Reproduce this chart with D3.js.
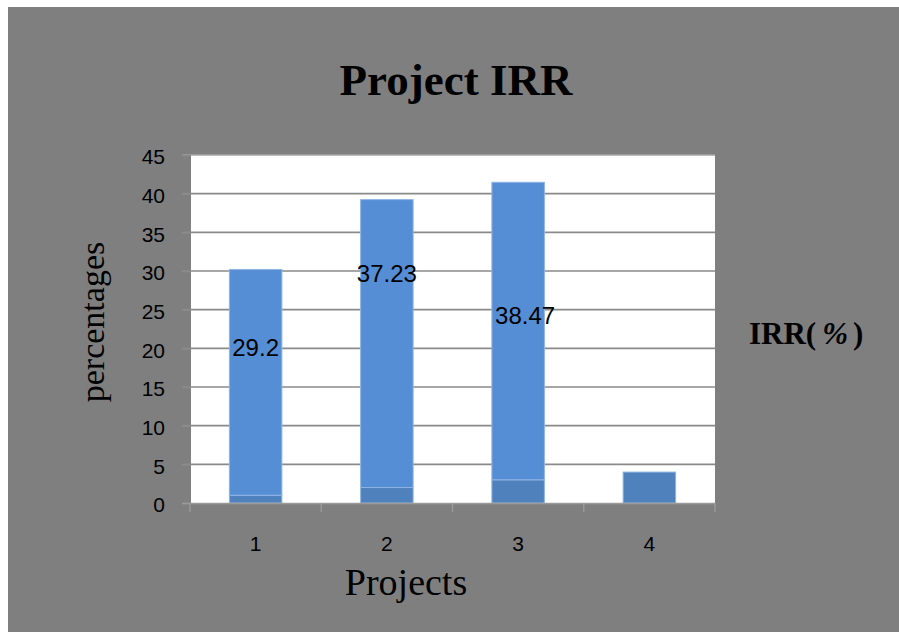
<!DOCTYPE html>
<html>
<head>
<meta charset="utf-8">
<script src="https://cdn.jsdelivr.net/npm/d3@7"></script>
<style>
  html, body { margin: 0; padding: 0; background: #ffffff; }
  svg { display: block; }
</style>
</head>
<body>
<svg id="chart" width="899" height="635"></svg>
<script>
// Project IRR data: a stacked column per project
const categories = ["1", "2", "3", "4"];
const projectSeries = [1, 2, 3, 4];
const irrSeries = [29.2, 37.23, 38.47, 0];
const yTicks = [0, 5, 10, 15, 20, 25, 30, 35, 40, 45];

const W = 899, H = 635;
const plot = { left: 191, right: 715, top: 155, bottom: 503 };

const svg = d3.select("#chart");

// outer chart area
svg.append("rect")
  .attr("x", 8).attr("y", 7)
  .attr("width", W - 8).attr("height", H - 10)
  .attr("fill", "#7f7f7f");

// plot area
svg.append("rect")
  .attr("x", plot.left).attr("y", plot.top)
  .attr("width", plot.right - plot.left).attr("height", plot.bottom - plot.top)
  .attr("fill", "#ffffff");

const x = d3.scaleBand()
  .domain(categories)
  .range([plot.left - 1, plot.right])
  .paddingInner(0.6)
  .paddingOuter(0.3);

const y = d3.scaleLinear()
  .domain([0, 45])
  .range([plot.bottom, plot.top]);

// horizontal gridlines
svg.append("g")
  .selectAll("line")
  .data(yTicks.filter(t => t > 0))
  .join("line")
  .attr("x1", plot.left - 9).attr("x2", plot.right)
  .attr("y1", d => y(d)).attr("y2", d => y(d))
  .attr("stroke", d => d === 45 ? "#a6a6a6" : "#8a8a8a")
  .attr("stroke-width", 1.6);

// y axis labels and ticks
const yAxis = svg.append("g")
  .attr("transform", `translate(${plot.left},0)`)
  .call(d3.axisLeft(y).tickValues(yTicks).tickSize(9).tickPadding(17).tickFormat(d3.format("d")));
yAxis.select(".domain").remove();
yAxis.selectAll(".tick line").attr("stroke", "#8a8a8a").attr("stroke-width", 1.6);
yAxis.selectAll(".tick text")
  .attr("fill", "#000")
  .attr("font-family", "'Liberation Sans', Arial, sans-serif")
  .attr("font-size", 21)
  .attr("dy", "0.42em");

// stacked bars
const rows = categories.map((c, i) => ({ cat: c, projects: projectSeries[i], irr: irrSeries[i] }));
const stacked = d3.stack().keys(["projects", "irr"])(rows);
const colors = { projects: "#4f81bd", irr: "#558ed5" };

svg.append("g")
  .selectAll("g")
  .data(stacked)
  .join("g")
  .attr("fill", d => colors[d.key])
  .selectAll("rect")
  .data(d => d.filter(s => s[1] - s[0] > 0))
  .join("rect")
  .attr("x", d => x(d.data.cat))
  .attr("width", x.bandwidth())
  .attr("y", d => y(d[1]))
  .attr("height", d => y(d[0]) - y(d[1]))
  .attr("stroke", "#8fb4e3")
  .attr("stroke-width", 1);

// x axis line and category boundary ticks
svg.append("line")
  .attr("x1", plot.left - 9).attr("x2", plot.right)
  .attr("y1", plot.bottom + 0.5).attr("y2", plot.bottom + 0.5)
  .attr("stroke", "#9a9a9a").attr("stroke-width", 1.6);

const step = x.step();
const firstEdge = x(categories[0]) - step * x.paddingOuter();
svg.append("g")
  .selectAll("line")
  .data(d3.range(categories.length + 1))
  .join("line")
  .attr("x1", i => firstEdge + i * step).attr("x2", i => firstEdge + i * step)
  .attr("y1", plot.bottom).attr("y2", plot.bottom + 9)
  .attr("stroke", "#9a9a9a").attr("stroke-width", 1.4);

svg.append("g")
  .selectAll("text")
  .data(categories)
  .join("text")
  .attr("x", d => x(d) + x.bandwidth() / 2)
  .attr("y", 551)
  .attr("text-anchor", "middle")
  .attr("font-family", "'Liberation Sans', Arial, sans-serif")
  .attr("font-size", 21)
  .attr("fill", "#000")
  .text(d => d);

// IRR value labels (hand-placed inside each column)
const labelNudge = [[0, -35], [0, -70], [7, -16]];
svg.append("g")
  .selectAll("text")
  .data(stacked[1].filter(s => s[1] - s[0] > 0))
  .join("text")
  .attr("x", (d, i) => x(d.data.cat) + x.bandwidth() / 2 + labelNudge[i][0])
  .attr("y", (d, i) => y((d[0] + d[1]) / 2) + labelNudge[i][1])
  .attr("dy", "0.36em")
  .attr("text-anchor", "middle")
  .attr("font-family", "'Liberation Sans', Arial, sans-serif")
  .attr("font-size", 24)
  .attr("fill", "#000")
  .text(d => d.data.irr);

// title
svg.append("text")
  .attr("x", 456).attr("y", 95)
  .attr("text-anchor", "middle")
  .attr("font-family", "'Liberation Serif', 'Times New Roman', serif")
  .attr("font-weight", "bold")
  .attr("font-size", 45)
  .attr("fill", "#000")
  .text("Project IRR");

// axis titles
svg.append("text")
  .attr("x", 406).attr("y", 595)
  .attr("text-anchor", "middle")
  .attr("font-family", "'Liberation Serif', 'Times New Roman', serif")
  .attr("font-size", 38)
  .attr("fill", "#000")
  .text("Projects");

svg.append("text")
  .attr("transform", "translate(104,322) rotate(-90)")
  .attr("text-anchor", "middle")
  .attr("font-family", "'Liberation Serif', 'Times New Roman', serif")
  .attr("font-size", 34)
  .attr("fill", "#000")
  .text("percentages");

// legend entry
const legend = svg.append("text")
  .attr("x", 749).attr("y", 344)
  .attr("font-family", "'Liberation Serif', 'Times New Roman', serif")
  .attr("font-weight", "bold")
  .attr("font-size", 31)
  .attr("fill", "#000");
legend.append("tspan").text("IRR(");
legend.append("tspan").attr("dx", 6).attr("font-style", "italic").text("%");
legend.append("tspan").attr("dx", 5).text(")");
</script>
</body>
</html>
